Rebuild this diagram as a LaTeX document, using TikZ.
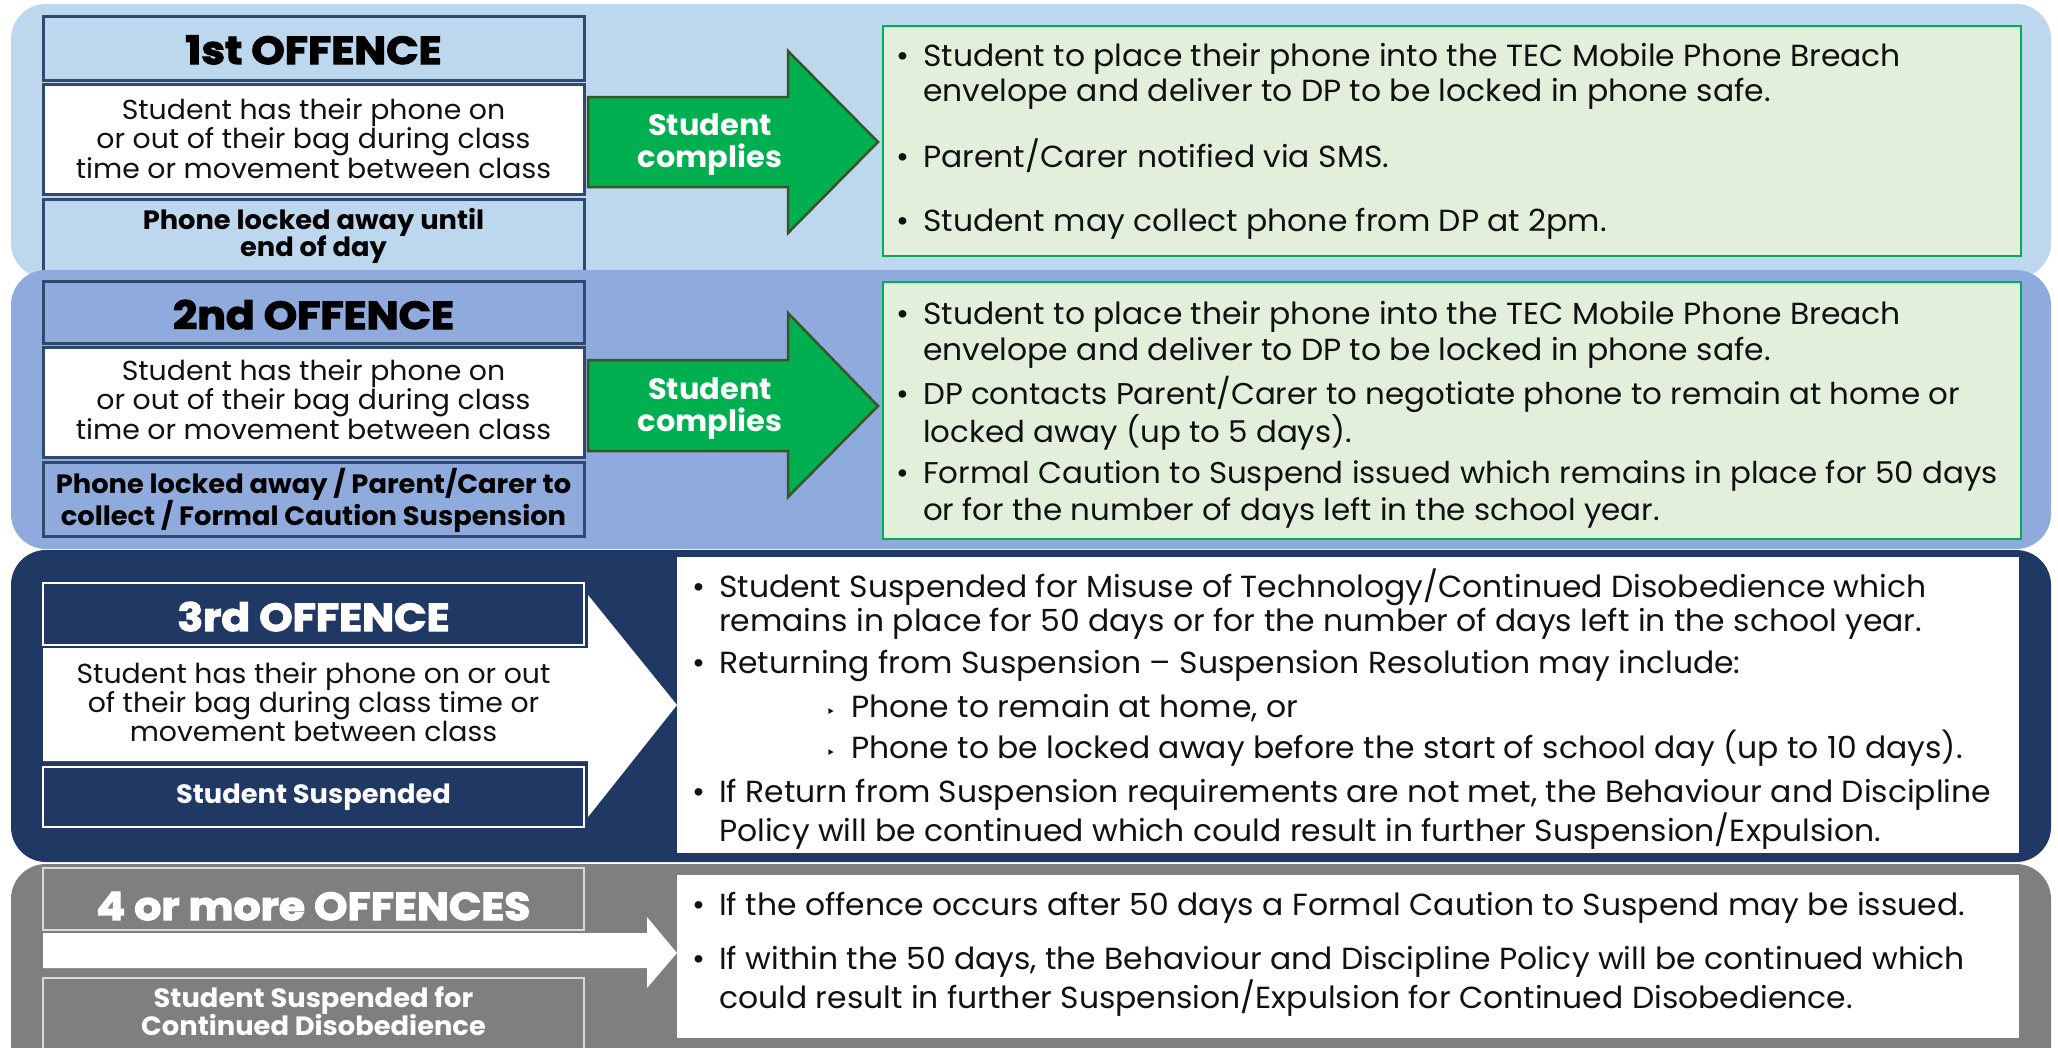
\documentclass[tikz,border=0pt]{standalone}
\usepackage{fontspec}
\setmainfont[FakeStretch=1.03]{Poppins}
\newfontfamily\titlefont[FakeBold=3,FakeStretch=1.09]{Poppins}
\newfontfamily\symfont{DejaVu Sans}
\definecolor{bandA}{HTML}{BDD7EE}
\definecolor{bandB}{HTML}{8FAADC}
\definecolor{bandC}{HTML}{203864}
\definecolor{bandD}{HTML}{7F7F7F}
\definecolor{boxline}{HTML}{2E4A6E}
\definecolor{greenfill}{HTML}{00B050}
\definecolor{greenedge}{HTML}{375623}
\definecolor{palegreen}{HTML}{E2EFDA}
\definecolor{greyline}{HTML}{D9D9D9}
\definecolor{inktext}{HTML}{111111}
\newcommand\ml[2][l]{\begin{tabular}[t]{@{}#1@{}}#2\end{tabular}}
\newcommand\bitem[2][27pt]{\begin{tabular}[t]{@{}l@{}l@{}}\makebox[#1][l]{\textbullet}&#2\end{tabular}}
\newcommand\sitem[2][25pt]{\begin{tabular}[t]{@{}l@{}l@{}}\makebox[#1][l]{\symfont\fontsize{16}{16}\selectfont ‣}&#2\end{tabular}}
\tikzset{
  lbox/.style={line width=3pt, draw=boxline},
  nbox/.style={line width=2.5pt, draw=white, fill=bandC},
  gbox/.style={line width=2.5pt, draw=greyline, fill=bandD},
  ttl/.style={anchor=base, inner sep=0pt, font=\titlefont\bfseries\fontsize{39}{42}\selectfont},
  ltxt/.style={anchor=base, inner sep=0pt, text=inktext, font=\fontsize{27.5}{29}\selectfont},
  btxt/.style={anchor=base, inner sep=0pt, font=\bfseries\fontsize{26.5}{23.5}\selectfont},
  atxt/.style={anchor=base, inner sep=0pt, text=white, font=\bfseries\fontsize{29.5}{30}\selectfont},
  body/.style={anchor=base west, inner sep=0pt, text=inktext, font=\fontsize{30.5}{35}\selectfont},
  greenarrow/.style={fill=greenfill, draw=greenedge, line width=2.5pt, line join=miter},
}
\begin{document}
\begin{tikzpicture}[x=1pt,y=-1pt]
\useasboundingbox (0,0) rectangle (2058,1047);
\clip (0,0) rectangle (2058,1047);
\fill[white] (0,0) rectangle (2058,1047);

% ---------------- band 1
\fill[bandA, rounded corners=35pt] (11,4) rectangle (2051,278);
\draw[lbox, fill=bandA] (43,16) rectangle (584,80);
\node[ttl] (t1) at (313.5,64) {1st OFFENCE};
\draw[lbox, fill=white] (43,84) rectangle (584,194);
\node[ltxt] (d1) at (313.5,119) {\ml[c]{Student has their phone on\\or out of their bag during class\\time or movement between class}};
\draw[lbox, fill=bandA] (43,199) rectangle (584,300);
\node[btxt] (c1) at (313.5,229) {\ml[c]{Phone locked away until\\end of day}};
\draw[greenarrow] (588,97) -- (788,97) -- (788,51) -- (878,142) -- (788,233) -- (788,187) -- (588,187) -- cycle;
\node[atxt] (a1) at (710,135) {\ml[c]{Student\\complies}};
\draw[line width=2.5pt, draw=greenfill, fill=palegreen] (883,26) rectangle (2021,256);
\node[body] (r1a) at (896,66) {\bitem{Student to place their phone into the TEC Mobile Phone Breach\\&envelope and deliver to DP to be locked in phone safe.}};
\node[body] (r1b) at (896,167) {\bitem{Parent/Carer notified via SMS.}};
\node[body] (r1c) at (896,231) {\bitem{Student may collect phone from DP at 2pm.}};

% ---------------- band 2
\fill[bandB, rounded corners=35pt] (11,270) rectangle (2051,549);
\draw[lbox, fill=bandB] (43,281) rectangle (584,343);
\node[ttl] (t2) at (313.5,329) {2nd OFFENCE};
\draw[lbox, fill=white] (43,347) rectangle (584,457);
\node[ltxt] (d2) at (313.5,380) {\ml[c]{Student has their phone on\\or out of their bag during class\\time or movement between class}};
\draw[lbox, fill=bandB] (43,462) rectangle (584,536);
\node[btxt] (c2) at (313.5,493) {\ml[c]{Phone locked away / Parent/Carer to\\collect / Formal Caution Suspension}};
\draw[greenarrow] (588,360) -- (788,360) -- (788,313) -- (878,406) -- (788,497) -- (788,451) -- (588,451) -- cycle;
\node[atxt] (a2) at (710,399) {\ml[c]{Student\\complies}};
\draw[line width=2.5pt, draw=greenfill, fill=palegreen] (883,282) rectangle (2021,539);
\node[body, font=\fontsize{30.5}{36}\selectfont] (r2a) at (896,324) {\bitem{Student to place their phone into the TEC Mobile Phone Breach\\&envelope and deliver to DP to be locked in phone safe.}};
\node[body, font=\fontsize{30}{36}\selectfont] (r2b) at (896,404) {\bitem{DP contacts Parent/Carer to negotiate phone to remain at home or\\&locked away (up to 5 days).}};
\node[body, font=\fontsize{30}{37}\selectfont] (r2c) at (896,483) {\bitem{Formal Caution to Suspend issued which remains in place for 50 days\\&or for the number of days left in the school year.}};

% ---------------- band 3
\fill[bandC, rounded corners=35pt] (11,550) rectangle (2051,862);
\fill[white] (43,648) -- (588,648) -- (588,595) -- (677,705) -- (588,817) -- (588,761) -- (43,761) -- cycle;
\draw[nbox] (43,583) rectangle (584,645);
\node[ttl, text=white] (t3) at (313.5,631) {3rd OFFENCE};
\node[ltxt] (d3) at (313.5,683) {\ml[c]{Student has their phone on or out\\of their bag during class time or\\movement between class}};
\draw[nbox] (43,767) rectangle (584,827);
\node[btxt, text=white] (c3) at (313.5,803) {Student Suspended};
\fill[white] (677,557) rectangle (2019,853);
\node[body, font=\fontsize{30.5}{34}\selectfont] (r3a) at (692,597) {\bitem{Student Suspended for Misuse of Technology/Continued Disobedience which\\&remains in place for 50 days or for the number of days left in the school year.}};
\node[body] (r3b) at (692,673) {\bitem{Returning from Suspension – Suspension Resolution may include:}};
\node[body] (r3c) at (826,717) {\sitem{Phone to remain at home, or}};
\node[body] (r3d) at (826,758) {\sitem{Phone to be locked away before the start of school day (up to 10 days).}};
\node[body] (r3e) at (692,802) {\bitem{If Return from Suspension requirements are not met, the Behaviour and Discipline\\&Policy will be continued which could result in further Suspension/Expulsion.}};

% ---------------- band 4
\fill[bandD, rounded corners=35pt] (11,864) rectangle (2051,1100);
\fill[white] (43,933) -- (647,933) -- (647,917) -- (677,953) -- (647,988) -- (647,968) -- (43,968) -- cycle;
\draw[gbox] (43,868) rectangle (584,930);
\node[ttl, text=white] (t4) at (313.5,920) {4 or more OFFENCES};
\draw[gbox] (43,978) rectangle (584,1070);
\node[btxt, text=white] (c4) at (313.5,1007) {\ml[c]{Student Suspended for\\Continued Disobedience}};
\fill[white] (677,875) rectangle (2019,1038);
\node[body] (r4a) at (692,915) {\bitem{If the offence occurs after 50 days a Formal Caution to Suspend may be issued.}};
\node[body] (r4b) at (692,969) {\bitem{If within the 50 days, the Behaviour and Discipline Policy will be continued which\\&could result in further Suspension/Expulsion for Continued Disobedience.}};
\end{tikzpicture}
\end{document}
